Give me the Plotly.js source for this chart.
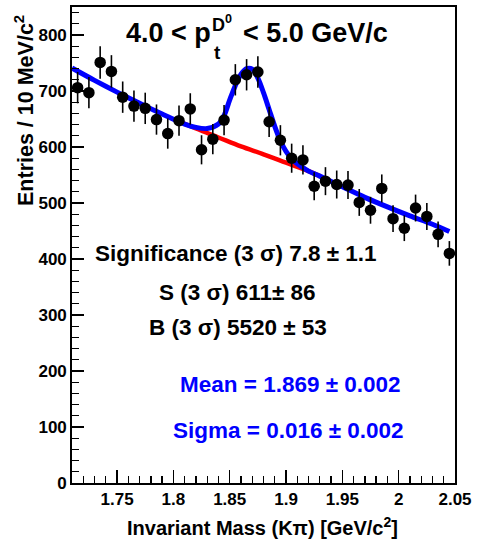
<!DOCTYPE html>
<html>
<head>
<meta charset="utf-8">
<script src="https://cdn.plot.ly/plotly-3.0.1.min.js"></script>
<style>html,body{margin:0;padding:0;background:#fff;}#chart{width:477px;height:547px;}</style>
</head>
<body>
<div id="chart"></div>
<script>
// Data points (bin centres, entries, errors)
const massBins = [1.715,1.725,1.735,1.745,1.755,1.765,1.775,1.785,1.795,1.805,1.815,1.825,1.835,1.845,1.855,1.865,1.875,1.885,1.895,1.905,1.915,1.925,1.935,1.945,1.955,1.965,1.975,1.985,1.995,2.005,2.015,2.025,2.035,2.045];
const entries = [706,697,751,735,689,673,669,649,624,647,668,595,614,648,720,729,734,645,612,580,577,530,539,533,532,501,487,526,472,455,491,476,444,410];
const entryErrors = [28,28,29,29,28,28,28,27,27,27,28,26,27,27,28,28,28,27,27,26,26,25,25,25,25,24,24,25,24,23,24,24,23,22];

// Total fit curve (blue)
const fitX = [1.71,1.73,1.75,1.77,1.79,1.81,1.82,1.83,1.84,1.845,1.85,1.855,1.86,1.865,1.87,1.875,1.88,1.885,1.89,1.895,1.90,1.905,1.91,1.92,1.93,1.95,1.97,1.99,2.01,2.03,2.045];
const fitY = [741,719,698,678,659,641,635,633,641,656,684,710,730,740,739,723,697,667,637,611,592,579,570,557,548,529,510,493,477,462,449];

// Background curve (red)
const bgX = [1.80,1.82,1.84,1.86,1.88,1.90,1.92,1.93];
const bgY = [650,633,617,601,587,572,557,548];

// Axis ticks
const yTicks = [0,100,200,300,400,500,600,700,800];
const xTicks = [1.75,1.8,1.85,1.9,1.95,2,2.05];
const xTickText = ['1.75','1.8','1.85','1.9','1.95','2','2.05'];

// Texts
const titleLeft = '4.0 < p';
const titleSub = 't';
const titleSup = 'D<sup>0</sup>';
const titleRight = '< 5.0 GeV/c';
const statLines = ['Significance (3 σ) 7.8 ± 1.1', 'S (3 σ) 611± 86', 'B (3 σ) 5520 ± 53'];
const fitLines = ['Mean = 1.869 ± 0.002', 'Sigma = 0.016 ± 0.002'];
const xTitle = 'Invariant Mass (Kπ) [GeV/c<sup>2</sup>]';
const yTitle = 'Entries / 10 MeV/c<sup>2</sup>';

const L = 72, R = 455, T = 7, B = 483, W = 477, H = 547;
const px = v => (v - L) / (R - L);
const py = v => (B - v) / (B - T);
const FAM = 'Liberation Sans, Arial, sans-serif';
const f = (size, color) => ({family: FAM, size: size, color: color || '#000', weight: 'bold'});

const traces = [
  {x: bgX, y: bgY, mode: 'lines', line: {color: '#ff0000', width: 4.5, shape: 'spline'}, hoverinfo: 'skip'},
  {x: fitX, y: fitY, mode: 'lines', line: {color: '#0000ff', width: 5, shape: 'spline', smoothing: 0.8}, hoverinfo: 'skip'},
  {x: massBins, y: entries, mode: 'markers', marker: {color: '#000', size: 11.5},
   error_y: {type: 'data', array: entryErrors, visible: true, color: '#000', thickness: 1.6, width: 0}}
];

const ann = (text, x, y, size, color, xa, extra) => Object.assign({
  text: text, xref: 'paper', yref: 'paper', x: px(x), y: py(y), showarrow: false,
  xanchor: xa || 'center', yanchor: 'middle', font: f(size, color)
}, extra || {});

const annotations = [
  ann(titleLeft, 213, 33, 27, '#000', 'right'),
  ann(titleSub, 212, 52, 19, '#000', 'left'),
  ann(titleSup, 210, 24, 18, '#000', 'left'),
  ann(titleRight, 241, 33, 27, '#000', 'left'),
  ann(statLines[0], 236, 254, 22.5),
  ann(statLines[1], 237, 292, 22.5),
  ann(statLines[2], 238, 327, 22.5),
  ann(fitLines[0], 290, 384, 22.5, '#0000ff'),
  ann(fitLines[1], 288, 430, 22.5, '#0000ff'),
  ann(xTitle, 262, 526, 20, '#000', 'center'),
  ann(yTitle, 24, 111, 21.5, '#000', 'center', {textangle: -90})
];

const layout = {
  width: W, height: H,
  margin: {l: L, r: W - R, t: T, b: H - B},
  paper_bgcolor: '#fff', plot_bgcolor: '#fff',
  showlegend: false,
  xaxis: {range: [1.71, 2.05], tickvals: xTicks, ticktext: xTickText, ticks: 'inside', ticklen: 13, tickwidth: 1.3, tickcolor: '#000',
    showline: true, mirror: true, linecolor: '#000', linewidth: 1.8, showgrid: false, zeroline: false,
    tickfont: f(17), minor: {dtick: 0.01, ticks: 'inside', ticklen: 7, tickwidth: 1.3, tickcolor: '#000', showgrid: false}},
  yaxis: {range: [0, 850], tickvals: yTicks, ticks: 'inside', ticklen: 12, tickwidth: 1.3, tickcolor: '#000',
    showline: true, mirror: true, linecolor: '#000', linewidth: 1.8, showgrid: false, zeroline: false,
    tickfont: f(17), minor: {tick0: 0, dtick: 20, ticks: 'inside', ticklen: 7, tickwidth: 1.3, tickcolor: '#000', showgrid: false}},
  annotations: annotations
};

Plotly.newPlot('chart', traces, layout, {staticPlot: true, displayModeBar: false});
</script>
</body>
</html>
